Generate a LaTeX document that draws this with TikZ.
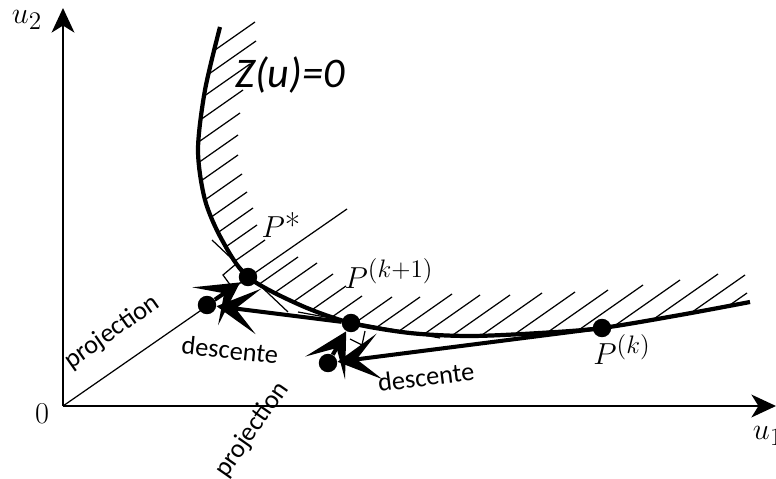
\documentclass[tikz,border=0pt]{standalone}
\usepackage{fontspec}
\newfontfamily\calib{Carlito}
\usetikzlibrary{arrows.meta}

\begin{document}
\begin{tikzpicture}[x=0.02cm,y=-0.02cm,
    >={Stealth[length=14pt,width=13pt,inset=4pt]},
    axis/.style={line width=1pt,->},
    curve/.style={line width=2.4pt},
    thin/.style={line width=0.7pt},
    move/.style={line width=2.3pt,-{Stealth[length=24pt,width=26pt,inset=13pt]}},
    pt/.style={circle,fill,inner sep=0pt,minimum size=10.5pt},
    word/.style={font=\calib\fontsize{15}{18}\selectfont},
    lab/.style={font=\fontsize{19}{22}\selectfont}]
  \useasboundingbox (0,0) rectangle (776,479);
  % axes
  \coordinate (O) at (63,406);
  \coordinate (u2end) at (63,8);
  \coordinate (u1end) at (776,406);
  \draw[axis] (O) -- (u2end);
  \draw[axis] (O) -- (u1end);
  \node[lab] (u2) at (27,20) {$u_2$};
  \node[lab] (u1) at (768,436) {$u_1$};
  \node[lab] (zero) at (42,414) {$0$};
  % hatched side of Z(u)=0
  \begin{scope}
    \clip plot[smooth] coordinates {(220,27) (205,90) (198,150) (205,200)
      (222,240) (248,277) (300,305) (351,323) (410,333) (470,336) (540,333)
      (602,328) (680,315) (750,302)} -- (776,302) -- (776,0) -- (220,0) -- cycle;
    \foreach \x/\y in {255/22,256/41,250/64,243/90,240/113,238/135,238/155,
        242/174,247/192,253/208,257/225,265/240,298/257,317/263,333/274,
        346/286,362/296,392/297,420/297,452/294,480/295,510/295,542/293,
        575/292,608/290,643/285,680/280,718/274,745/275,747/293}
      \draw[thin] (\x,\y) -- ++(145:220);
  \end{scope}
  \draw[curve] plot[smooth] coordinates {(220,27) (205,90) (198,150) (205,200)
      (222,240) (248,277) (300,305) (351,323) (410,333) (470,336) (540,333)
      (602,328) (680,315) (750,302)};
  \node[font=\calib\itshape\fontsize{24}{28}\selectfont] (zeq) at (290,75) {Z(u)=0};
  % points
  \node[pt] (pk) at (602,328) {};
  \node[pt] (pk1) at (351,323) {};
  \node[pt] (ps) at (248,277) {};
  \node[pt] (d2) at (328,363) {};
  \node[pt] (d1) at (207,305) {};
  \node[lab] (pklab) at (622,350) {$P^{(k)}$};
  \node[lab] (pk1lab) at (389,274) {$P^{(k+1)}$};
  \node[lab] (pslab) at (281,225) {$P$*};
  % normal and tangents
  \coordinate (nend) at (347,209);
  \draw[thin] (O) -- (nend);
  \coordinate (ta) at (212,240);
  \coordinate (tb) at (288,312);
  \draw[thin] (ta) -- (tb);
  \coordinate (tc) at (298,312);
  \coordinate (td) at (440,338);
  \draw[thin] (tc) -- (td);
  \draw[thin] (236,264) -- (223,275) -- (231,286);
  \draw[thin] (365,331) -- (362,345) -- (350,339);
  % iterations
  \draw[move] (pk) -- (d2);
  \draw[move] (d2) -- (pk1);
  \draw[move] (pk1) -- (d1);
  \draw[move] (d1) -- (ps);
  \node[word,rotate=35] (proj1) at (112,332) {projection};
  \node[word,rotate=55] (proj2) at (252,430) {projection};
  \node[word,rotate=-6] (desc1) at (230,350) {descente};
  \node[word,rotate=7] (desc2) at (426,377) {descente};
\end{tikzpicture}
\end{document}
